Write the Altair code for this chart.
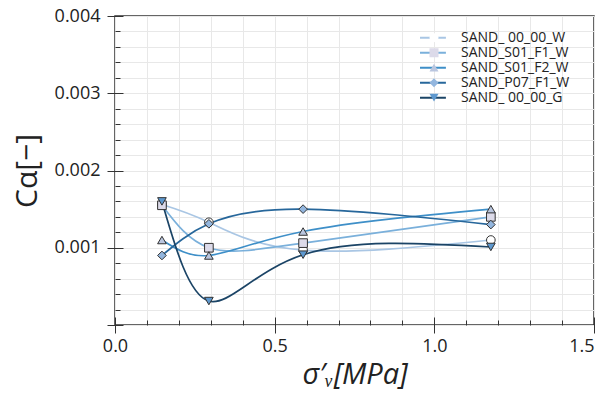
import altair as alt
import pandas as pd

series = ["SAND_ 00_00_W", "SAND_S01_F1_W", "SAND_S01_F2_W", "SAND_P07_F1_W", "SAND_ 00_00_G"]
markers = ["m_00_00_W", "m_S01_F1_W", "m_S01_F2_W", "m_P07_F1_W", "m_00_00_G"]
stress = [0.147, 0.294, 0.589, 1.177]
c_00_00_W = [0.00156, 0.00133, 0.00097, 0.00110]
c_S01_F1_W = [0.00155, 0.00100, 0.00106, 0.00140]
c_S01_F2_W = [0.00110, 0.00090, 0.00121, 0.00150]
c_P07_F1_W = [0.00090, 0.00131, 0.00150, 0.00130]
c_00_00_G = [0.00160, 0.00031, 0.00091, 0.00101]
values = [c_00_00_W, c_S01_F1_W, c_S01_F2_W, c_P07_F1_W, c_00_00_G]
line_colors = ["#a9c6e4", "#7ab0db", "#3e8fc8", "#27679b", "#1b4466"]
marker_fills = ["#ffffff", "#dcdae9", "#bac6df", "#93b6de", "#5d98cf"]
shapes = ["circle", "square", "triangle-up", "diamond", "triangle-down"]

x_major = [0.0, 0.5, 1.0, 1.5]
x_minor = [round(i * 0.1, 1) for i in range(16)]
y_major = [0.0, 0.001, 0.002, 0.003, 0.004]
y_minor = [round(i * 0.0002, 4) for i in range(21)]

rows = []
for s, m, vals in zip(series, markers, values):
    for xv, yv in zip(stress, vals):
        rows.append({"series": s, "marker": m, "x": xv, "y": yv})
df = pd.DataFrame(rows)

FONT = "Open Sans"
xscale = alt.Scale(domain=[0, 1.5], nice=False, zero=False)
yscale = alt.Scale(domain=[0, 0.004], nice=False, zero=False)

major_x = alt.Axis(orient="bottom", values=x_major, format=".1f", offset=-8, tickSize=16,
                   tickColor="#333", tickWidth=1, domain=False, grid=False,
                   labelFont=FONT, labelFontSize=18, labelColor="#222", labelPadding=4,
                   labelFlush=False,
                   labelAlign={"condition": {"test": "datum.value >= 1.5", "value": "right"},
                               "value": "center"},
                   title="σ′ᵥ[MPa]", titleFont=FONT, titleFontSize=29, titleFontStyle="italic",
                   titleFontWeight="normal", titleColor="#222", titlePadding=5)
major_y = alt.Axis(orient="left", values=y_major, offset=-8, tickSize=16,
                   tickColor="#333", tickWidth=1, domain=False, grid=False,
                   labelExpr="datum.value == 0 ? '' : format(datum.value, '.3f')",
                   labelFont=FONT, labelFontSize=18, labelColor="#222", labelPadding=7,
                   labelFlush=False,
                   title="Cα[−]", titleFont=FONT, titleFontSize=30,
                   titleFontWeight="normal", titleColor="#222", titlePadding=12)
minor_x = alt.Axis(orient="bottom", values=x_minor, offset=-5, tickSize=5, tickColor="#333",
                   tickWidth=1, labels=False, domain=False, grid=True, gridColor="#e8e8e8",
                   gridWidth=1, title=None)
minor_y = alt.Axis(orient="left", values=y_minor, offset=-5, tickSize=5, tickColor="#333",
                   tickWidth=1, labels=False, domain=False, grid=True, gridColor="#e8e8e8",
                   gridWidth=1, title=None)

LEG_Y = 15
leg_lines = alt.Legend(title=None, orient="none", legendX=305, legendY=LEG_Y, padding=0,
                       rowPadding=0, clipHeight=13.3, symbolType="M-5.4,0H5.4", symbolSize=49,
                       symbolStrokeWidth=2, labelFont=FONT, labelFontSize=14,
                       labelColor="#222", labelOffset=27, zindex=1)
leg_marks = alt.Legend(title=None, orient="none", legendX=312, legendY=LEG_Y, padding=0,
                       rowPadding=0, clipHeight=13.3, symbolSize=81, symbolStrokeColor="#222",
                       symbolStrokeWidth=1.2, labelFont=FONT, labelFontSize=14,
                       labelExpr="''", labelOffset=22, zindex=3)

lines = alt.Chart(df).mark_line(interpolate="natural", strokeWidth=1.7).encode(
    x=alt.X("x:Q", scale=xscale, axis=major_x),
    y=alt.Y("y:Q", scale=yscale, axis=major_y),
    color=alt.Color("series:N", scale=alt.Scale(domain=series, range=line_colors), legend=leg_lines),
)

points = alt.Chart(df).mark_point(filled=True, size=75, stroke="#333", strokeWidth=1, opacity=1).encode(
    x=alt.X("x:Q", scale=xscale, axis=minor_x),
    y=alt.Y("y:Q", scale=yscale, axis=minor_y),
    shape=alt.Shape("marker:N", scale=alt.Scale(domain=markers, range=shapes), legend=leg_marks),
    fill=alt.Fill("marker:N", scale=alt.Scale(domain=markers, range=marker_fills), legend=leg_marks),
)

chart = alt.layer(lines, points).resolve_axis(x="independent", y="independent").properties(
    width=479, height=309,
    autosize=alt.AutoSizeParams(type="none"),
    padding={"left": 107, "top": 8, "right": 6, "bottom": 70},
    background="white",
).configure_view(stroke="#333", strokeWidth=1.5)

chart.save("out.html", embed_options={"renderer": "svg", "actions": False})
